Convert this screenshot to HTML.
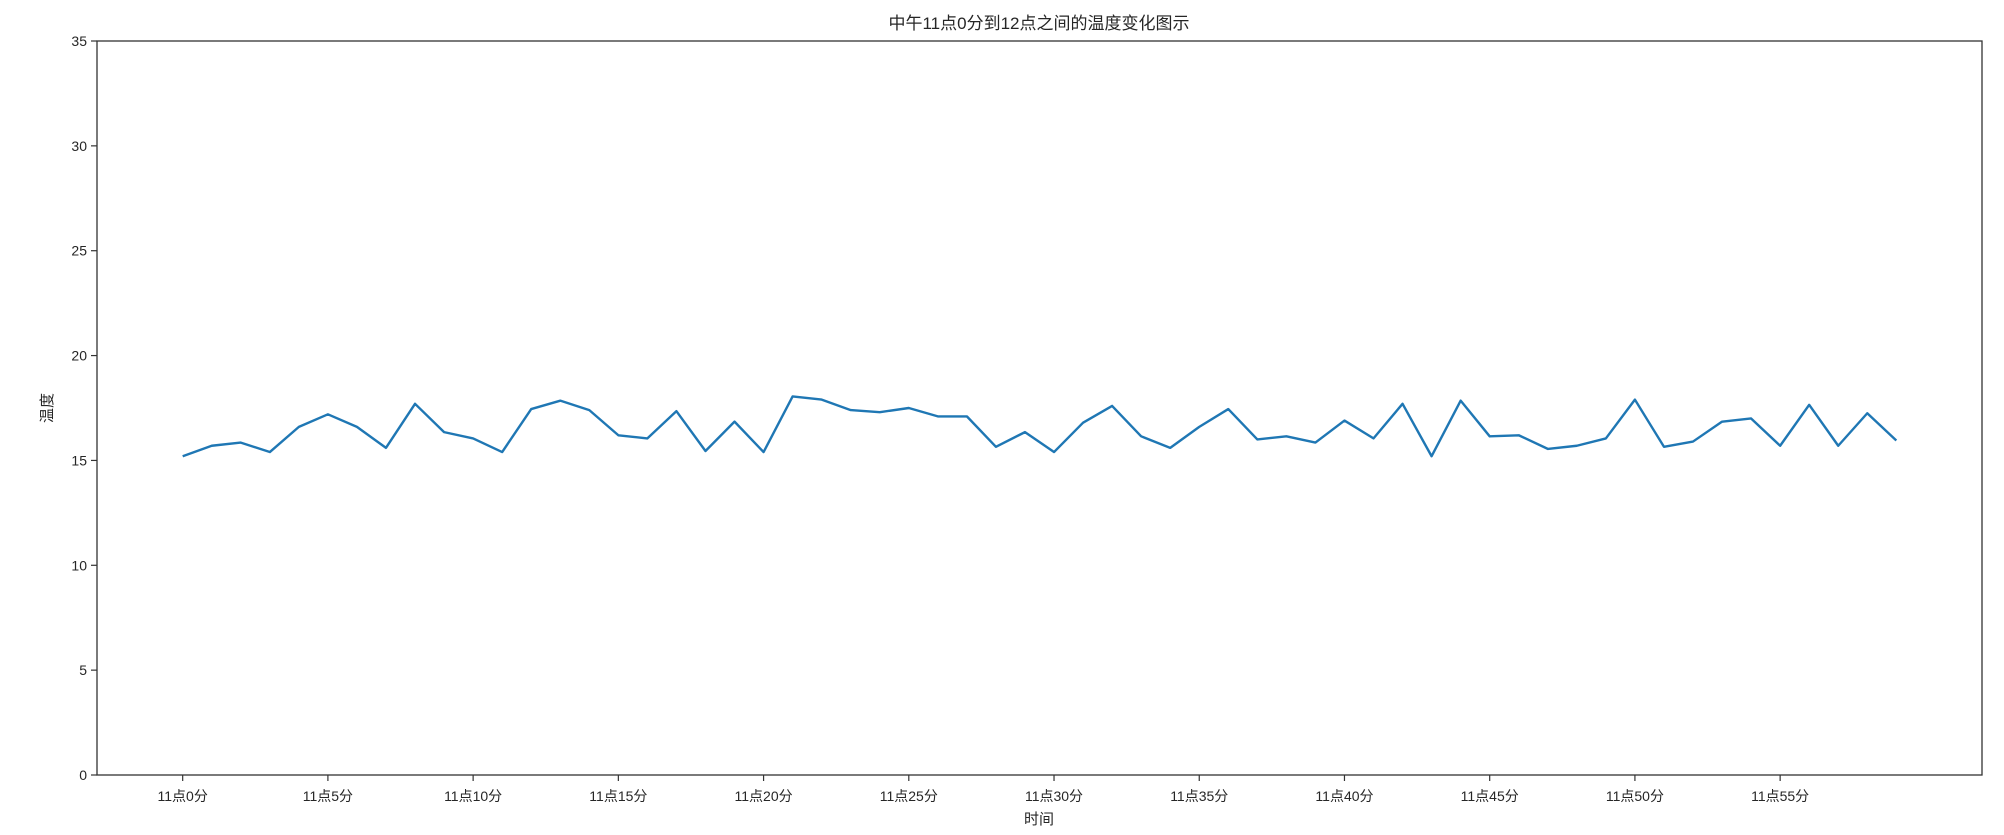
<!DOCTYPE html>
<html><head><meta charset="utf-8"><style>
html,body{margin:0;padding:0;background:#fff;}
svg text{font-family:"Liberation Sans","Noto Sans CJK SC",sans-serif;fill:#262626;}
</style></head><body>
<svg id="chart" width="2004" height="830" xmlns="http://www.w3.org/2000/svg">
<text x="1039" y="29" font-size="17" text-anchor="middle">中午11点0分到12点之间的温度变化图示</text>
<g id="yticks"></g>
<g id="xticks"></g>
<polyline id="line" fill="none" stroke="#1f77b4" stroke-width="2.4" stroke-linejoin="round"></polyline>
<rect x="97" y="41" width="1885" height="734" fill="none" stroke="#333" stroke-width="1.3"/>
<text x="1039" y="824" font-size="15" text-anchor="middle">时间</text>
<text x="0" y="0" font-size="15" text-anchor="middle" transform="translate(52,408) rotate(-90)">温度</text>
</svg>
<script>
const minutes = [];
for (let i = 0; i < 60; i++) minutes.push(i);
const temps = [15.2,15.7,15.85,15.4,16.6,17.2,16.6,15.6,17.7,16.35,16.05,15.4,17.45,17.85,17.4,16.2,16.05,17.35,15.45,16.85,15.4,18.05,17.9,17.4,17.3,17.5,17.1,17.1,15.65,16.35,15.4,16.8,17.6,16.15,15.6,16.6,17.45,16.0,16.15,15.85,16.9,16.05,17.7,15.2,17.85,16.15,16.2,15.55,15.7,16.05,17.9,15.65,15.9,16.85,17.0,15.7,17.65,15.7,17.25,15.95];
const yTicks = [0,5,10,15,20,25,30,35];
const xTickMinutes = [0,5,10,15,20,25,30,35,40,45,50,55];
const xTickLabels = ["11点0分","11点5分","11点10分","11点15分","11点20分","11点25分","11点30分","11点35分","11点40分","11点45分","11点50分","11点55分"];

const L=97,R=1982,T=41,B=775;
const xmin=-2.95, xmax=61.95;
const xs=v=>L+(v-xmin)/(xmax-xmin)*(R-L);
const ys=v=>B-(v-0)/(35-0)*(B-T);
const NS="http://www.w3.org/2000/svg";
const yg=document.getElementById('yticks'), xg=document.getElementById('xticks');
yTicks.forEach(t=>{
  const l=document.createElementNS(NS,'line');
  
  
  l.setAttribute('x1',L-6);l.setAttribute('x2',L);l.setAttribute('y1',ys(t));l.setAttribute('y2',ys(t));
  l.setAttribute('stroke','#333');l.setAttribute('stroke-width','1.2');
  yg.appendChild(l);
  const tx=document.createElementNS(NS,'text');
  
  
  tx.setAttribute('x',L-10);tx.setAttribute('y',ys(t)+5);tx.setAttribute('font-size','14');tx.setAttribute('text-anchor','end');
  tx.textContent=t;yg.appendChild(tx);
});
xTickMinutes.forEach((m,i)=>{
  const l=document.createElementNS(NS,'line');
  
  
  l.setAttribute('x1',xs(m));l.setAttribute('x2',xs(m));l.setAttribute('y1',B);l.setAttribute('y2',B+6);
  l.setAttribute('stroke','#333');l.setAttribute('stroke-width','1.2');
  xg.appendChild(l);
  const tx=document.createElementNS(NS,'text');
  
  
  tx.setAttribute('x',xs(m));tx.setAttribute('y',B+26);tx.setAttribute('font-size','14');tx.setAttribute('text-anchor','middle');
  tx.textContent=xTickLabels[i];xg.appendChild(tx);
});
document.getElementById('line').setAttribute('points',temps.map((v,i)=>xs(minutes[i])+','+ys(v)).join(' '));
</script>
</body></html>
